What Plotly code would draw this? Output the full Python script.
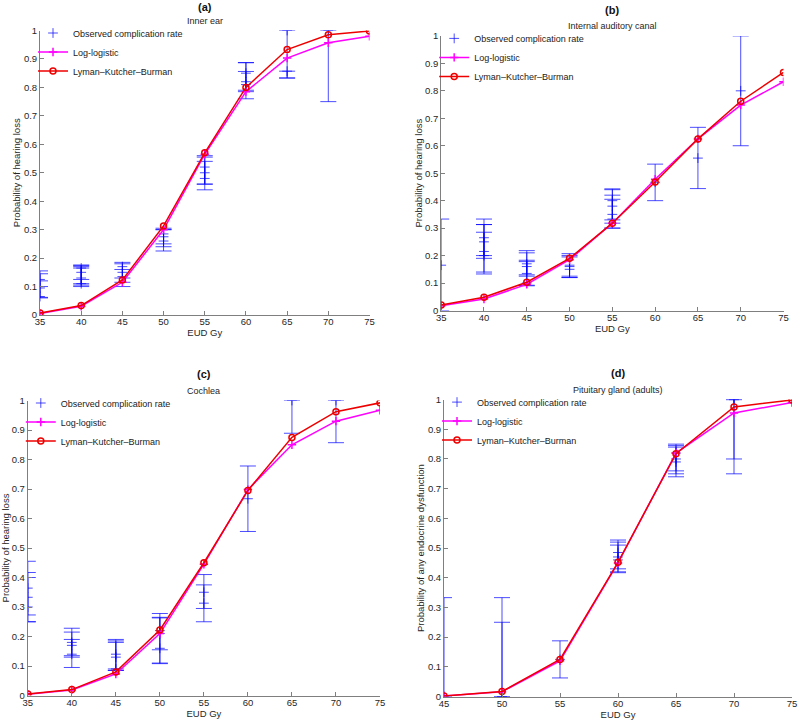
import plotly.graph_objects as go

# ---------------- data ----------------
# (a) Inner ear
a_dose = [35, 40, 45, 50, 55, 60, 65, 70, 75]
a_lkb = [0.007, 0.033, 0.123, 0.313, 0.570, 0.800, 0.933, 0.985, 0.998]
a_ll = [0.005, 0.031, 0.115, 0.300, 0.565, 0.785, 0.903, 0.957, 0.980]
a_obs_x = [35, 35, 35, 40, 40, 40, 40, 45, 45, 45, 50, 50, 50, 55, 55, 55, 60, 60, 60, 65, 65, 70]
a_obs_y = [0.095, 0.065, 0.125, 0.130, 0.110, 0.150, 0.165, 0.150, 0.170, 0.135, 0.275, 0.260, 0.285,
           0.500, 0.480, 0.520, 0.850, 0.820, 0.810, 1.000, 0.857, 1.000]
a_obs_lo = [0.062, 0.060, 0.100, 0.105, 0.100, 0.110, 0.125, 0.100, 0.130, 0.115, 0.225, 0.240, 0.250,
            0.440, 0.460, 0.460, 0.760, 0.785, 0.790, 0.833, 0.833, 0.750]
a_obs_hi = [0.155, 0.120, 0.145, 0.175, 0.165, 0.170, 0.175, 0.185, 0.180, 0.160, 0.305, 0.300, 0.300,
            0.560, 0.540, 0.555, 0.887, 0.856, 0.887, 1.000, 0.857, 1.000]

# (b) Internal auditory canal
b_dose = [35, 40, 45, 50, 55, 60, 65, 70, 75]
b_lkb = [0.020, 0.048, 0.103, 0.190, 0.318, 0.468, 0.625, 0.762, 0.867]
b_ll = [0.017, 0.042, 0.095, 0.185, 0.318, 0.478, 0.625, 0.748, 0.833]
b_obs_x = [35, 40, 40, 40, 40, 45, 45, 45, 45, 50, 50, 50, 55, 55, 55, 55, 60, 65, 70]
b_obs_y = [0.165, 0.250, 0.215, 0.200, 0.265, 0.170, 0.135, 0.160, 0.100, 0.160, 0.150, 0.165,
           0.380, 0.350, 0.400, 0.333, 0.467, 0.555, 0.800]
b_obs_lo = [0.000, 0.190, 0.133, 0.140, 0.200, 0.125, 0.090, 0.130, 0.092, 0.120, 0.120, 0.125,
            0.300, 0.318, 0.330, 0.300, 0.400, 0.444, 0.600]
b_obs_hi = [0.333, 0.285, 0.333, 0.313, 0.313, 0.218, 0.183, 0.210, 0.178, 0.207, 0.200, 0.195,
            0.443, 0.420, 0.440, 0.405, 0.533, 0.667, 1.000]

# (c) Cochlea
c_dose = [35, 40, 45, 50, 55, 60, 65, 70, 75]
c_lkb = [0.005, 0.020, 0.080, 0.222, 0.450, 0.695, 0.875, 0.962, 0.992]
c_ll = [0.004, 0.019, 0.073, 0.210, 0.445, 0.698, 0.850, 0.930, 0.967]
c_obs_x = [35, 35, 35, 40, 40, 40, 45, 45, 45, 50, 50, 50, 55, 55, 60, 65, 70]
c_obs_y = [0.364, 0.333, 0.300, 0.180, 0.140, 0.170, 0.140, 0.130, 0.090, 0.210, 0.160, 0.220,
           0.350, 0.313, 0.667, 1.000, 1.000]
c_obs_lo = [0.250, 0.273, 0.250, 0.130, 0.095, 0.135, 0.085, 0.090, 0.085, 0.108, 0.110, 0.155,
            0.250, 0.295, 0.556, 0.889, 0.857]
c_obs_hi = [0.455, 0.417, 0.400, 0.228, 0.190, 0.215, 0.190, 0.180, 0.185, 0.278, 0.263, 0.265,
            0.410, 0.375, 0.778, 1.000, 1.000]

# (d) Pituitary gland (adults)
d_dose = [45, 50, 55, 60, 65, 70, 75]
d_lkb = [0.002, 0.017, 0.125, 0.452, 0.818, 0.975, 0.999]
d_ll = [0.002, 0.016, 0.120, 0.450, 0.820, 0.955, 0.990]
d_obs_x = [45, 50, 50, 55, 60, 60, 60, 65, 65, 65, 70, 70]
d_obs_y = [0.000, 0.000, 0.000, 0.125, 0.485, 0.470, 0.460, 0.800, 0.820, 0.790, 1.000, 1.000]
d_obs_lo = [0.000, 0.000, 0.000, 0.0625, 0.417, 0.430, 0.420, 0.740, 0.760, 0.750, 0.750, 0.800]
d_obs_hi = [0.333, 0.333, 0.250, 0.1875, 0.527, 0.510, 0.520, 0.850, 0.840, 0.845, 1.000, 1.000]

panels = [
    dict(tag="(a)", name="Inner ear", ylabel="Probability of hearing loss",
         dose=a_dose, lkb=a_lkb, ll=a_ll, ox=a_obs_x, oy=a_obs_y, olo=a_obs_lo, ohi=a_obs_hi,
         xr=[35, 75], dx=[40.0, 369.5], dy=[30.5, 315.0], ystand=1, tg=23.5),
    dict(tag="(b)", name="Internal auditory canal", ylabel="Probability of hearing loss",
         dose=b_dose, lkb=b_lkb, ll=b_ll, ox=b_obs_x, oy=b_obs_y, olo=b_obs_lo, ohi=b_obs_hi,
         xr=[35, 75], dx=[441.2, 783.5], dy=[35.9, 310.5], ystand=0, tg=25.5),
    dict(tag="(c)", name="Cochlea", ylabel="Probability of hearing loss",
         dose=c_dose, lkb=c_lkb, ll=c_ll, ox=c_obs_x, oy=c_obs_y, olo=c_obs_lo, ohi=c_obs_hi,
         xr=[35, 75], dx=[27.8, 380.0], dy=[400.5, 695.5], ystand=3, tg=27.0),
    dict(tag="(d)", name="Pituitary gland (adults)", ylabel="Probability of any endocrine dysfunction",
         dose=d_dose, lkb=d_lkb, ll=d_ll, ox=d_obs_x, oy=d_obs_y, olo=d_obs_lo, ohi=d_obs_hi,
         xr=[45, 75], dx=[444.0, 792.0], dy=[399.6, 696.5], ystand=1, tg=26.5),
]

W, H = 798, 722
FONT = "Liberation Sans, Arial, sans-serif"
BLUE = "rgba(0,0,255,0.7)"
MAGENTA = "#ff00ff"
RED = "#ee0000"
AXIS = "#7f7f7f"
TXT = "#262626"
FS = 9.5

fig = go.Figure()
layout = dict(
    width=W, height=H, margin=dict(l=0, r=0, t=0, b=0, autoexpand=False),
    paper_bgcolor="white", plot_bgcolor="white",
    font=dict(family=FONT, size=FS, color=TXT),
    annotations=[],
)

for i, p in enumerate(panels):
    k = "" if i == 0 else str(i + 1)
    xa, ya = "x" + k, "y" + k
    leg = "legend" + k
    err_plus = [h - y for h, y in zip(p["ohi"], p["oy"])]
    err_minus = [y - l for y, l in zip(p["oy"], p["olo"])]
    fig.add_trace(go.Scatter(
        x=p["ox"], y=p["oy"], mode="markers", name="Observed complication rate",
        marker=dict(symbol="cross-thin-open", size=7, color=BLUE, line=dict(color=BLUE, width=1)),
        error_y=dict(type="data", array=err_plus, arrayminus=err_minus, symmetric=False,
                     color=BLUE, thickness=1, width=8),
        xaxis=xa, yaxis=ya, legend=leg))
    fig.add_trace(go.Scatter(
        x=p["dose"], y=p["ll"], mode="lines+markers", name="Log-logistic",
        line=dict(color=MAGENTA, width=1.5),
        marker=dict(symbol="cross-thin-open", size=6, color=MAGENTA, line=dict(color=MAGENTA, width=1.5)),
        xaxis=xa, yaxis=ya, legend=leg))
    fig.add_trace(go.Scatter(
        x=p["dose"], y=p["lkb"], mode="lines+markers", name="Lyman\u2013Kutcher\u2013Burman",
        line=dict(color=RED, width=1.5),
        marker=dict(symbol="circle-open", size=6, color=RED, line=dict(color=RED, width=1.5)),
        xaxis=xa, yaxis=ya, legend=leg))

    x0, x1 = p["dx"][0] / W, p["dx"][1] / W
    y0, y1 = 1 - p["dy"][1] / H, 1 - p["dy"][0] / H
    axis_common = dict(showgrid=False, zeroline=False, showline=True, linecolor=AXIS, linewidth=1,
                       ticks="inside", ticklen=4, tickcolor=AXIS, automargin=False,
                       tickfont=dict(family=FONT, size=FS, color=TXT))
    layout["xaxis" + k] = dict(axis_common, domain=[x0, x1], range=p["xr"], dtick=5, tick0=0,
                               anchor=ya, ticklabelstandoff=-2,
                               title=dict(text="EUD Gy", standoff=1,
                                          font=dict(family=FONT, size=FS, color=TXT)))
    layout["yaxis" + k] = dict(axis_common, domain=[y0, y1], range=[0, 1], dtick=0.1, tick0=0,
                               anchor=xa,
                               title=dict(text=p["ylabel"], standoff=p["ystand"],
                                          font=dict(family=FONT, size=FS, color=TXT)))
    layout[leg] = dict(x=x0 - 7 / W, y=y1 + 12 / H, xanchor="left", yanchor="top",
                       bgcolor="rgba(0,0,0,0)", borderwidth=0, itemwidth=30,
                       font=dict(family=FONT, size=9, color="#1a1a1a"),
                       tracegroupgap=0)
    xc = (x0 + x1) / 2
    layout["annotations"].append(dict(text="<b>" + p["tag"] + "</b>", x=xc, y=y1 + p["tg"] / H,
                                      xref="paper", yref="paper", showarrow=False,
                                      xanchor="center", yanchor="middle",
                                      font=dict(family=FONT, size=11, color="#111111")))
    layout["annotations"].append(dict(text=p["name"], x=xc, y=y1 + 9.5 / H,
                                      xref="paper", yref="paper", showarrow=False,
                                      xanchor="center", yanchor="middle",
                                      font=dict(family=FONT, size=9, color=TXT)))

fig.update_layout(**layout)
fig.write_html("out.html", config={"displayModeBar": False},
               post_script="document.body.style.margin='0px';")
